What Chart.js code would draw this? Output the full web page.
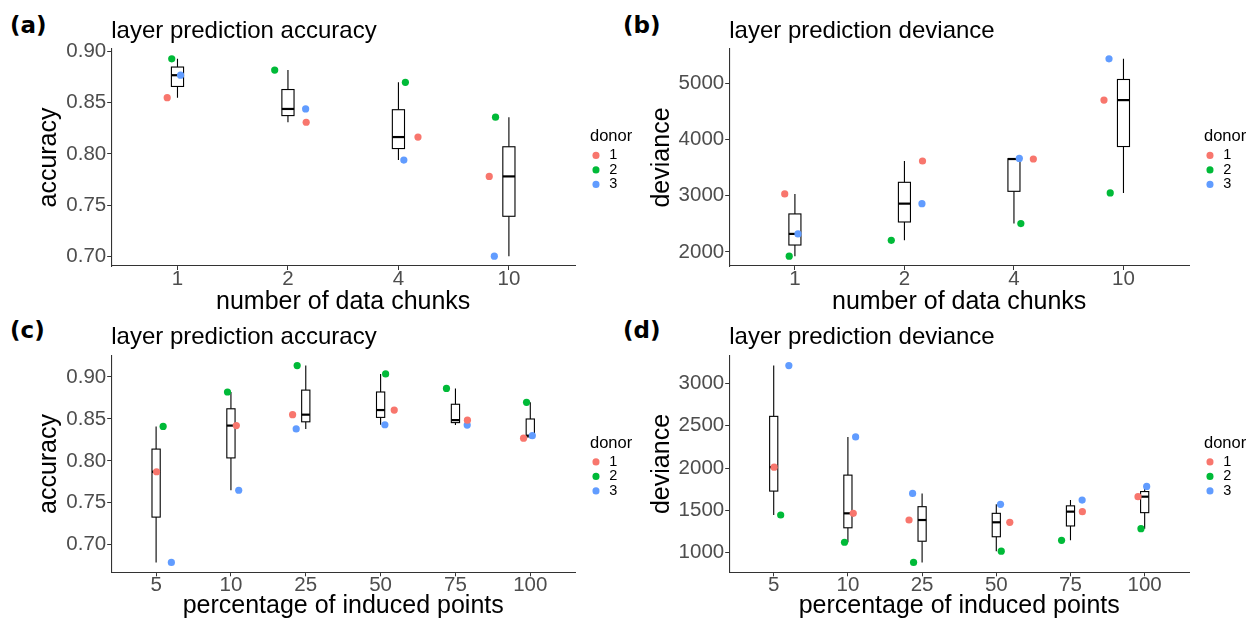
<!DOCTYPE html>
<html>
<head>
<meta charset="utf-8">
<script src="https://cdn.jsdelivr.net/npm/chart.js@4.4.1/dist/chart.umd.min.js"></script>
<style>
  body { margin: 0; background: #fff; width: 1258px; height: 623px; position: relative; overflow: hidden; }
  canvas { position: absolute; }
  .tag { position: absolute; font: bold 23px "DejaVu Sans", sans-serif; line-height: 1; color: #000; }
</style>
</head>
<body>
<div class="tag" style="left:10px;top:14px">(a)</div>
<div class="tag" style="left:623px;top:14px">(b)</div>
<div class="tag" style="left:10px;top:319px">(c)</div>
<div class="tag" style="left:623px;top:319px">(d)</div>
<canvas id="chartA" width="650" height="320" style="left:0;top:0"></canvas>
<canvas id="chartB" width="628" height="320" style="left:630px;top:0"></canvas>
<canvas id="chartC" width="650" height="313" style="left:0;top:310px"></canvas>
<canvas id="chartD" width="628" height="313" style="left:630px;top:310px"></canvas>
<script>
// categories on the x axes
const chunkLabels = ["1", "2", "4", "10"];
const inducedLabels = ["5", "10", "25", "50", "75", "100"];
const donors = ["1", "2", "3"];
const donorColors = ["#F8766D", "#00BA38", "#619CFF"];

// one row per donor, one value per category
const chunkAccuracy = [
    [0.855, 0.831, 0.8165, 0.778],
    [0.893, 0.882, 0.870, 0.836],
    [0.877, 0.844, 0.794, 0.700],
];
const chunkDeviance = [
    [3030, 3616, 3651, 4698],
    [1925, 2206, 2503, 3048],
    [2320, 2858, 3662, 5431],
];
const inducedAccuracy = [
    [0.787, 0.842, 0.855, 0.8605, 0.8485, 0.827],
    [0.841, 0.882, 0.9135, 0.9035, 0.8863, 0.8697],
    [0.679, 0.765, 0.838, 0.843, 0.8426, 0.830],
];
const inducedDeviance = [
    [2010, 1464, 1385, 1358, 1484, 1661],
    [1444, 1122, 883, 1016, 1145, 1283],
    [3212, 2368, 1700, 1570, 1621, 1782],
];

// horizontal jitter of the donor points (category units)
const chunkJitter = [
    [-0.093, 0.165, 0.177, -0.178],
    [-0.052, -0.12, 0.063, -0.121],
    [0.028, 0.16, 0.049, -0.132],
];
const inducedJitter = [
    [0.006, 0.072, -0.176, 0.182, 0.16, -0.09],
    [0.094, -0.046, -0.115, 0.067, -0.12, -0.05],
    [0.204, 0.104, -0.128, 0.057, 0.157, 0.027],
];

// y tick values
const accuracyTicks = [0.70, 0.75, 0.80, 0.85, 0.90];
const chunkDevianceTicks = [2000, 3000, 4000, 5000];
const inducedDevianceTicks = [1000, 1500, 2000, 2500, 3000];

Chart.defaults.font.family = "'Liberation Sans', Arial, sans-serif";
Chart.defaults.color = "#000";
Chart.defaults.animation = false;

// R type-7 quantile
function quantile(sorted, p) {
    const h = (sorted.length - 1) * p;
    const lo = Math.floor(h);
    const hi = Math.min(lo + 1, sorted.length - 1);
    return sorted[lo] + (h - lo) * (sorted[hi] - sorted[lo]);
}

// boxplot per category, drawn under the points
const boxPlugin = {
    id: "boxes",
    beforeDatasetsDraw(chart, args, opts) {
        const { ctx, scales: { x, y } } = chart;
        ctx.save();
        ctx.strokeStyle = "#000";
        (opts.groups || []).forEach((vals, i) => {
            const s = vals.slice().sort((a, b) => a - b);
            const cx = x.getPixelForValue(i + 1);
            const left = x.getPixelForValue(i + 1 - opts.width / 2);
            const right = x.getPixelForValue(i + 1 + opts.width / 2);
            const yMin = y.getPixelForValue(s[0]);
            const yQ1 = y.getPixelForValue(quantile(s, 0.25));
            const yMed = y.getPixelForValue(quantile(s, 0.5));
            const yQ3 = y.getPixelForValue(quantile(s, 0.75));
            const yMax = y.getPixelForValue(s[s.length - 1]);
            ctx.lineWidth = 1.1;
            ctx.beginPath();
            ctx.moveTo(cx, yMax);
            ctx.lineTo(cx, yQ3);
            ctx.moveTo(cx, yQ1);
            ctx.lineTo(cx, yMin);
            ctx.stroke();
            ctx.fillStyle = "#fff";
            ctx.fillRect(left, yQ3, right - left, yQ1 - yQ3);
            ctx.strokeRect(left, yQ3, right - left, yQ1 - yQ3);
            ctx.lineWidth = 2.2;
            ctx.beginPath();
            ctx.moveTo(left, yMed);
            ctx.lineTo(right, yMed);
            ctx.stroke();
        });
        ctx.restore();
    },
};

// the legend box is sized from its items only, so give the "donor" title room
const legendRoom = {
    id: "legendRoom",
    afterLayout(chart) {
        chart.legend.right += 14;
        chart.legend.width += 14;
    },
};

function makePanel(id, p) {
    const n = p.labels.length;
    const all = p.series.flat();
    const lo = Math.min(...all);
    const hi = Math.max(...all);
    const expand = (hi - lo) * 0.05;

    const datasets = donors.map((d, k) => ({
        label: d,
        data: p.series[k].map((v, i) => ({ x: i + 1 + p.jitter[k][i], y: v })),
        backgroundColor: donorColors[k],
        borderWidth: 0,
        pointRadius: 3.6,
        pointHoverRadius: 3.6,
    }));

    return new Chart(document.getElementById(id), {
        type: "scatter",
        data: { datasets },
        plugins: [boxPlugin, legendRoom],
        options: {
            responsive: false,
            devicePixelRatio: 1,
            layout: { padding: { left: 0, right: p.padRight, top: 0, bottom: 0 } },
            scales: {
                x: {
                    type: "linear",
                    min: 0.4,
                    max: n + 0.6,
                    afterBuildTicks: (s) => {
                        s.ticks = p.labels.map((_, i) => ({ value: i + 1 }));
                    },
                    afterFit: (s) => {
                        s.height = p.xHeight;
                    },
                    ticks: {
                        callback: (v) => p.labels[Math.round(v) - 1],
                        color: "#4D4D4D",
                        font: { size: 20.5, lineHeight: 1 },
                        padding: -1,
                        maxRotation: 0,
                        autoSkip: false,
                    },
                    grid: { drawOnChartArea: false, tickLength: 4, color: "#333333" },
                    border: { color: "#333333", width: 1.1 },
                    title: {
                        display: true,
                        text: p.xTitle,
                        font: { size: 25, lineHeight: 1 },
                        padding: { top: 0, bottom: p.xTitlePad },
                    },
                },
                y: {
                    min: lo - expand,
                    max: hi + expand,
                    afterBuildTicks: (s) => {
                        s.ticks = p.yTicks.map((v) => ({ value: v }));
                    },
                    afterFit: (s) => {
                        s.width = p.yWidth;
                    },
                    ticks: {
                        callback: p.tickFormat,
                        color: "#4D4D4D",
                        font: { size: 20.5, lineHeight: 1 },
                        padding: 1,
                    },
                    grid: { drawOnChartArea: false, tickLength: 4, color: "#333333" },
                    border: { color: "#333333", width: 1.1 },
                    title: {
                        display: true,
                        text: p.yTitle,
                        font: { size: 25, lineHeight: 1 },
                        padding: { top: p.yTitlePad, bottom: 0 },
                    },
                },
                // empty strip between the panel and the legend
                gap: {
                    type: "linear",
                    position: "right",
                    grid: { display: false, drawTicks: false },
                    ticks: { display: false },
                    border: { display: false },
                    afterFit: (s) => {
                        s.width = 14.8;
                    },
                },
            },
            plugins: {
                boxes: { groups: p.labels.map((_, i) => p.series.map((s) => s[i])), width: 0.11 },
                title: {
                    display: true,
                    text: p.title,
                    align: "start",
                    fullSize: false,
                    color: "#000",
                    font: { size: 24, weight: "normal", lineHeight: 1 },
                    padding: p.titlePad,
                },
                legend: {
                    position: "right",
                    align: "center",
                    title: {
                        display: true,
                        text: "donor",
                        position: "start",
                        font: { size: 16.5 },
                        padding: { top: 0, bottom: 0 },
                    },
                    labels: {
                        usePointStyle: true,
                        pointStyle: "circle",
                        boxWidth: 12,
                        boxHeight: 5,
                        padding: 0,
                        color: "#000",
                        font: { size: 14.5, lineHeight: 1 },
                    },
                },
                tooltip: { enabled: false },
            },
        },
    });
}

const fmt2 = (v) => v.toFixed(2);
const fmt0 = (v) => String(v);

makePanel("chartA", {
    labels: chunkLabels, series: chunkAccuracy, jitter: chunkJitter, yTicks: accuracyTicks, tickFormat: fmt2,
    title: "layer prediction accuracy", yTitle: "accuracy", xTitle: "number of data chunks",
    yWidth: 111.2, yTitlePad: 36.8, xHeight: 54, xTitlePad: 5.5, titlePad: { top: 18.9, bottom: 6.1 }, padRight: 22.7,
});
makePanel("chartB", {
    labels: chunkLabels, series: chunkDeviance, jitter: chunkJitter, yTicks: chunkDevianceTicks, tickFormat: fmt0,
    title: "layer prediction deviance", yTitle: "deviance", xTitle: "number of data chunks",
    yWidth: 99.2, yTitlePad: 20, xHeight: 54, xTitlePad: 5.5, titlePad: { top: 18.9, bottom: 6.1 }, padRight: 16.7,
});
makePanel("chartC", {
    labels: inducedLabels, series: inducedAccuracy, jitter: inducedJitter, yTicks: accuracyTicks, tickFormat: fmt2,
    title: "layer prediction accuracy", yTitle: "accuracy", xTitle: "percentage of induced points",
    yWidth: 111.2, yTitlePad: 36.8, xHeight: 50.7, xTitlePad: 4.3, titlePad: { top: 15.5, bottom: 6.2 }, padRight: 22.7,
});
makePanel("chartD", {
    labels: inducedLabels, series: inducedDeviance, jitter: inducedJitter, yTicks: inducedDevianceTicks, tickFormat: fmt0,
    title: "layer prediction deviance", yTitle: "deviance", xTitle: "percentage of induced points",
    yWidth: 99.2, yTitlePad: 20, xHeight: 50.7, xTitlePad: 4.3, titlePad: { top: 15.5, bottom: 6.2 }, padRight: 16.7,
});
</script>
</body>
</html>
